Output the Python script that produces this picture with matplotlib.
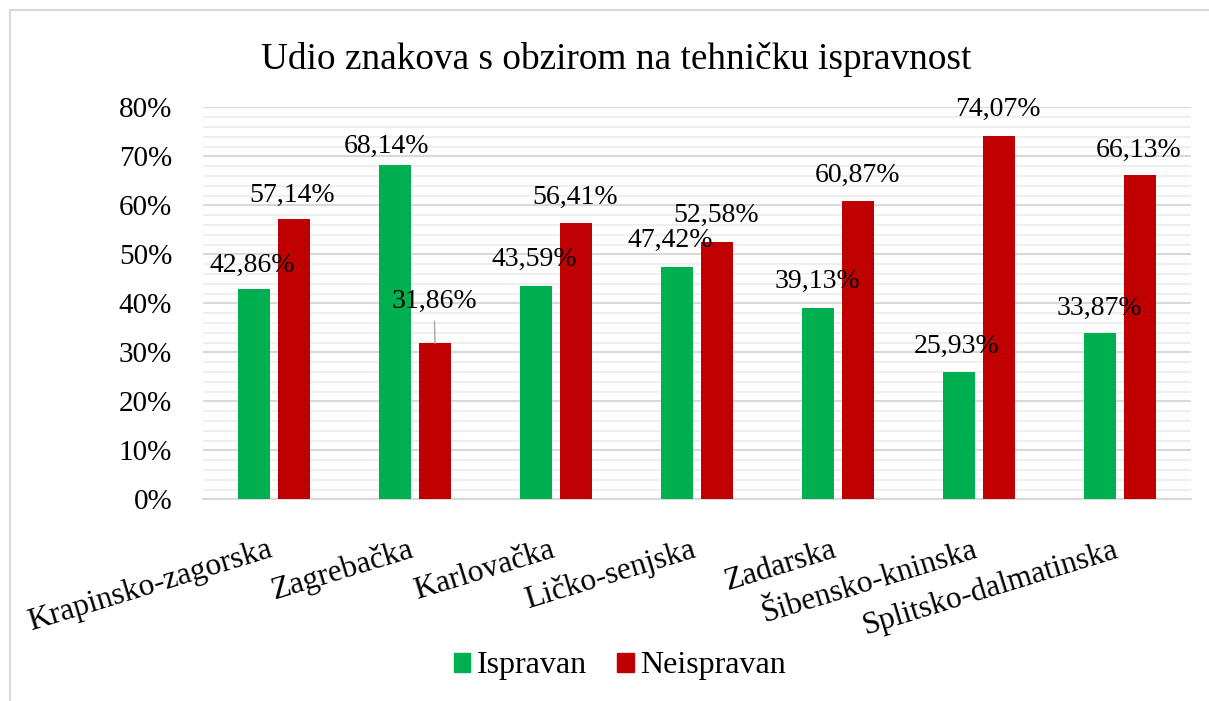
#!/usr/bin/env python3
"""Udio znakova s obzirom na tehničku ispravnost - grouped bar chart by county."""

import matplotlib
matplotlib.use("Agg")
import matplotlib.pyplot as plt
import numpy as np
from matplotlib.lines import Line2D
from matplotlib.patches import Patch

# Data
COUNTIES = [
    "Krapinsko-zagorska",
    "Zagrebačka",
    "Karlovačka",
    "Ličko-senjska",
    "Zadarska",
    "Šibensko-kninska",
    "Splitsko-dalmatinska",
]
ISPRAVAN = [42.86, 68.14, 43.59, 47.42, 39.13, 25.93, 33.87]
NEISPRAVAN = [57.14, 31.86, 56.41, 52.58, 60.87, 74.07, 66.13]
SERIES_NAMES = ["Ispravan", "Neispravan"]
TITLE = "Udio znakova s obzirom na tehničku ispravnost"
Y_TICKS = [0, 10, 20, 30, 40, 50, 60, 70, 80]

# Appearance
GREEN = "#00B050"
RED = "#C00000"
MAJOR_GRID = "#d9d9d9"
MINOR_GRID = "#efefef"
FONT = "Liberation Serif"
BAR_WIDTH = 0.227
BAR_OFFSET = 0.142
# label offsets in pixels (dx, dy above bar top) - Excel moved a few to avoid overlap
GREEN_LABEL_OFFSETS = [(-2, 17), (-8, 13), (-2, 20), (-7, 20), (-1, 20), (-2, 19), (-1, 18)]
RED_LABEL_OFFSETS = [(-2, 17), (-1, 35), (-1, 19), (-1, 20), (-1, 19), (-1, 20), (-1, 18)]
LEADER_LINE = [False, True, False, False, False, False, False]

plt.rcParams["font.family"] = [FONT, "DejaVu Serif"]


def fmt(v):
    return f"{v:.2f}".replace(".", ",") + "%"


def main():
    fig = plt.figure(figsize=(12.09, 7.01), dpi=100)
    ax = fig.add_axes([0.1683, 0.2877, 0.8164, 0.5592])

    x = np.arange(len(COUNTIES))
    ax.bar(x - BAR_OFFSET, ISPRAVAN, width=BAR_WIDTH, color=GREEN, zorder=3)
    ax.bar(x + BAR_OFFSET, NEISPRAVAN, width=BAR_WIDTH, color=RED, zorder=3)

    ax.set_xlim(-0.5, len(COUNTIES) - 0.5)
    ax.set_ylim(0, 80)
    ax.set_yticks(Y_TICKS)
    ax.set_yticklabels([f"{t}%" for t in Y_TICKS], fontsize=21)
    ax.set_yticks(np.arange(0, 81, 2), minor=True)
    ax.tick_params(axis="y", which="both", length=0, pad=22.5)
    ax.set_xticks([])

    ax.grid(axis="y", which="minor", color=MINOR_GRID, linewidth=1.5, zorder=0)
    ax.grid(axis="y", which="major", color=MAJOR_GRID, linewidth=1.5, zorder=1)
    ax.set_axisbelow(True)
    for side in ["top", "right", "left"]:
        ax.spines[side].set_visible(False)
    ax.spines["bottom"].set_color(MAJOR_GRID)
    ax.spines["bottom"].set_linewidth(1.5)

    # data labels
    for i in range(len(COUNTIES)):
        dx, dy = GREEN_LABEL_OFFSETS[i]
        ax.annotate(fmt(ISPRAVAN[i]), xy=(x[i] - BAR_OFFSET, ISPRAVAN[i]),
                    xytext=(dx, dy), textcoords="offset pixels",
                    ha="center", va="baseline", fontsize=20, zorder=5)
        dx, dy = RED_LABEL_OFFSETS[i]
        arrow = None
        if LEADER_LINE[i]:
            arrow = dict(arrowstyle="-", color="#a6a6a6", lw=1, shrinkA=3, shrinkB=0)
        ax.annotate(fmt(NEISPRAVAN[i]), xy=(x[i] + BAR_OFFSET, NEISPRAVAN[i]),
                    xytext=(dx, dy), textcoords="offset pixels",
                    ha="center", va="baseline", fontsize=20, zorder=5,
                    arrowprops=arrow)

    # category labels, rotated like Excel
    trans = ax.get_xaxis_transform()
    for i, name in enumerate(COUNTIES):
        ax.text(x[i], -0.146, name, transform=trans, rotation=17,
                rotation_mode="anchor", ha="right", va="baseline", fontsize=22.7)

    fig.text(616 / 1209, 1 - 69 / 701, TITLE, ha="center", va="baseline", fontsize=26.8)

    handles = [Patch(color=GREEN), Patch(color=RED)]
    fig.legend(handles, SERIES_NAMES, loc="center", bbox_to_anchor=(619.5 / 1209, 1 - 666 / 701),
               ncol=2, frameon=False, fontsize=23, borderpad=0, handlelength=0.53,
               handleheight=0.53, handletextpad=0.19, columnspacing=0.94)

    # chart area border (cropped at the right and bottom)
    fig.add_artist(Line2D([10 / 1209, 10 / 1209], [0, 1 - 10 / 701], color=MAJOR_GRID, lw=1.5))
    fig.add_artist(Line2D([10 / 1209, 1], [1 - 10 / 701, 1 - 10 / 701], color=MAJOR_GRID, lw=1.5))

    fig.savefig("out.png", dpi=100)


if __name__ == "__main__":
    main()
